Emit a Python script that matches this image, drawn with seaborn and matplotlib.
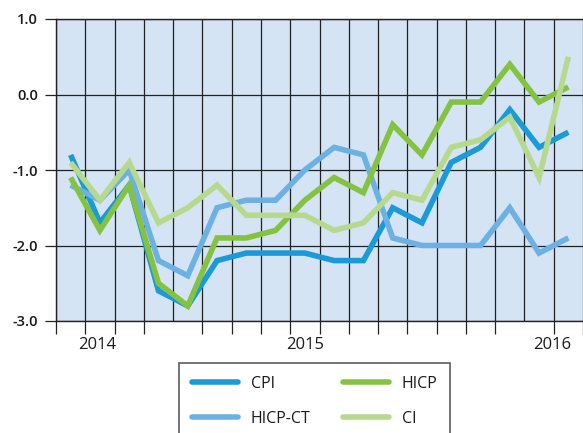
import numpy as np
import pandas as pd
import matplotlib
matplotlib.use("Agg")
import matplotlib.pyplot as plt
import matplotlib.transforms as mtransforms
from matplotlib.lines import Line2D
import seaborn as sns

# monthly observations, Sep 2014 - Feb 2016
months = ["2014-09", "2014-10", "2014-11", "2014-12",
          "2015-01", "2015-02", "2015-03", "2015-04", "2015-05", "2015-06",
          "2015-07", "2015-08", "2015-09", "2015-10", "2015-11", "2015-12",
          "2016-01", "2016-02"]

cpi = [-0.8, -1.7, -1.2, -2.6, -2.8, -2.2, -2.1, -2.1, -2.1, -2.2,
       -2.2, -1.5, -1.7, -0.9, -0.7, -0.2, -0.7, -0.5]
hicp_ct = [-1.2, -1.4, -1.0, -2.2, -2.4, -1.5, -1.4, -1.4, -1.0, -0.7,
           -0.8, -1.9, -2.0, -2.0, -2.0, -1.5, -2.1, -1.9]
hicp = [-1.1, -1.8, -1.2, -2.5, -2.8, -1.9, -1.9, -1.8, -1.4, -1.1,
        -1.3, -0.4, -0.8, -0.1, -0.1, 0.4, -0.1, 0.1]
ci = [-0.9, -1.4, -0.9, -1.7, -1.5, -1.2, -1.6, -1.6, -1.6, -1.8,
      -1.7, -1.3, -1.4, -0.7, -0.6, -0.3, -1.1, 0.5]

series_names = ["CPI", "HICP-CT", "HICP", "CI"]
colors = ["#1a9ad6", "#6cb1e1", "#84c341", "#b7d98d"]

year_labels = ["2014", "2015", "2016"]
year_label_pos = [0.9, 8.0, 16.45]
year_breaks = [3.5, 15.5]

yticks = [-3.0, -2.0, -1.0, 0.0, 1.0]
ytick_labels = ["-3.0", "-2.0", "-1.0", "0.0", "1.0"]

# long-form table for seaborn
df = pd.DataFrame({
    "idx": np.tile(np.arange(len(months)), 4),
    "value": cpi + hicp_ct + hicp + ci,
    "series": np.repeat(series_names, len(months)),
})

sns.set_theme(style="white")
plt.rcParams["font.family"] = ["Open Sans", "DejaVu Sans"]

fig = plt.figure(figsize=(5.83, 4.33), dpi=100)
W, H = 583, 433
ax = fig.add_axes([56 / W, 1 - 321 / H, (583 - 56) / W, (321 - 19) / H])
ax.set_facecolor("#d4e4f4")

sns.lineplot(data=df, x="idx", y="value", hue="series", hue_order=series_names,
             palette=colors, linewidth=4.0, ax=ax, legend=False, zorder=3)
for ln in ax.lines:
    ln.set_solid_joinstyle("miter")
    ln.set_solid_capstyle("butt")

ax.set_xlim(-0.5, 17.4)
ax.set_ylim(-3, 1)

# vertical grid at month boundaries
bounds = np.arange(-0.5, len(months), 1.0)
ax.set_xticks(year_breaks)
ax.set_xticks([b for b in bounds if b not in year_breaks], minor=True)
ax.set_xticklabels([])
ax.tick_params(axis="x", which="major", direction="out", length=23, width=0.9,
               color="#222222")
ax.tick_params(axis="x", which="minor", direction="out", length=9, width=0.9,
               color="#222222", bottom=True)
ax.grid(True, axis="x", which="both", color="#222222", linewidth=0.9, zorder=1)

ax.set_yticks(yticks)
ax.set_yticklabels(ytick_labels, fontsize=10.5, fontweight="semibold",
                   color="#1a1a1a")
ax.tick_params(axis="y", direction="out", length=8, width=0.9, pad=5,
               color="#222222", left=True)
ax.grid(True, axis="y", color="#222222", linewidth=0.9, zorder=1)
ax.set_axisbelow(True)

for s in ["left", "bottom", "top"]:
    ax.spines[s].set_color("#222222")
    ax.spines[s].set_linewidth(1.0)
ax.spines["right"].set_visible(False)
ax.set_xlabel("")
ax.set_ylabel("")

trans = mtransforms.blended_transform_factory(ax.transData, ax.transAxes)
for lab, pos in zip(year_labels, year_label_pos):
    ax.text(pos, -0.079, lab, transform=trans, ha="center", va="center",
            fontsize=12, color="#1a1a1a")

handles = [Line2D([0], [0], color=c, linewidth=4.0) for c in colors]
leg = fig.legend(handles, series_names, ncol=2, loc="upper left",
                 bbox_to_anchor=(179 / W, 1 - 363 / H), frameon=True,
                 fancybox=False, fontsize=11.5, handlelength=2.9,
                 handletextpad=0.8, columnspacing=2.0, labelspacing=1.2,
                 borderpad=0.8, borderaxespad=0)
leg.get_frame().set_edgecolor("#333333")
leg.get_frame().set_linewidth(1.2)
for t in leg.get_texts():
    t.set_color("#1a1a1a")

fig.savefig("out.png", dpi=100)
